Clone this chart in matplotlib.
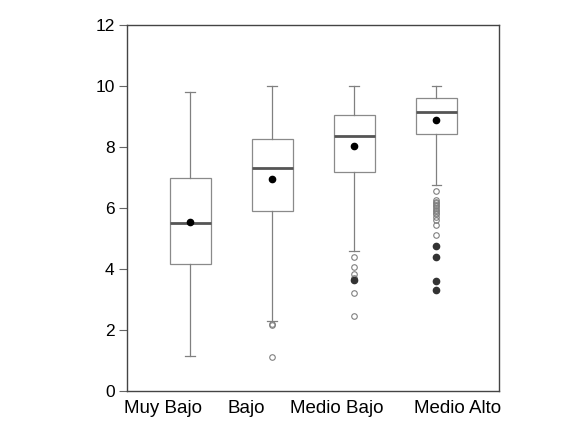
import matplotlib
matplotlib.use("Agg")
from matplotlib import pyplot as plt

plt.rcParams['font.family'] = ['Liberation Sans', 'DejaVu Sans']

# data
categories = ['Muy Bajo', 'Bajo', 'Medio Bajo', 'Medio Alto']
q1 = [4.15, 5.9, 7.18, 8.44]
medians = [5.5, 7.3, 8.35, 9.15]
q3 = [6.97, 8.27, 9.05, 9.62]
whis_low = [1.15, 2.3, 4.6, 6.75]
whis_high = [9.8, 10.0, 10.0, 10.0]
means = [5.55, 6.96, 8.03, 8.9]
fliers = [
    [],
    [2.2, 2.15, 1.1],
    [4.4, 4.05, 3.85, 3.7, 3.2, 2.45],
    [6.55, 6.25, 6.2, 6.15, 6.1, 6.05, 6.0, 5.95, 5.9, 5.85, 5.8, 5.7, 5.6,
     5.45, 5.1],
]
# outliers that stack up and look like solid dots
heavy_fliers = [[], [], [3.65], [4.75, 4.4, 3.6, 3.3]]

# category labels are spread as one centred line, not under each box
label_x = [0.0957, 0.3208, 0.5633, 0.8895]

stats = []
for i, name in enumerate(categories):
    stats.append({'label': name, 'q1': q1[i], 'med': medians[i], 'q3': q3[i],
                  'whislo': whis_low[i], 'whishi': whis_high[i],
                  'mean': means[i], 'fliers': fliers[i]})

fig = plt.figure(figsize=(5.8, 4.32), dpi=100)
ax = fig.add_axes([0.219, 0.095, 0.641, 0.847])

ax.bxp(stats, widths=0.5, patch_artist=True, showmeans=True, capwidths=0.12,
       boxprops=dict(facecolor='white', edgecolor='#8a8a8a', linewidth=0.9),
       whiskerprops=dict(color='#808080', linewidth=0.9),
       capprops=dict(color='#808080', linewidth=0.9),
       medianprops=dict(color='#555555', linewidth=2.0),
       meanprops=dict(marker='o', markerfacecolor='black', markeredgecolor='black',
                      markersize=4.5),
       flierprops=dict(marker='o', markerfacecolor='none', markeredgecolor='#808080',
                       markersize=4, markeredgewidth=0.8))

for i, vals in enumerate(heavy_fliers):
    ax.plot([i + 1] * len(vals), vals, 'o', color='#333333', markersize=4.5)

ax.set_xlim(0.23, 4.76)
ax.set_ylim(0, 12)
ax.set_yticks(range(0, 13, 2))
ax.set_xticks([])
for x, name in zip(label_x, categories):
    ax.text(x, -0.025, name, transform=ax.transAxes, ha='center', va='top',
            fontsize=13.5)
ax.tick_params(axis='y', labelsize=12.5, length=6, color='#666666', direction='out',
               pad=3)
for sp in ax.spines.values():
    sp.set_color('#444444')
    sp.set_linewidth(1.0)

fig.savefig('out.png', dpi=100)
